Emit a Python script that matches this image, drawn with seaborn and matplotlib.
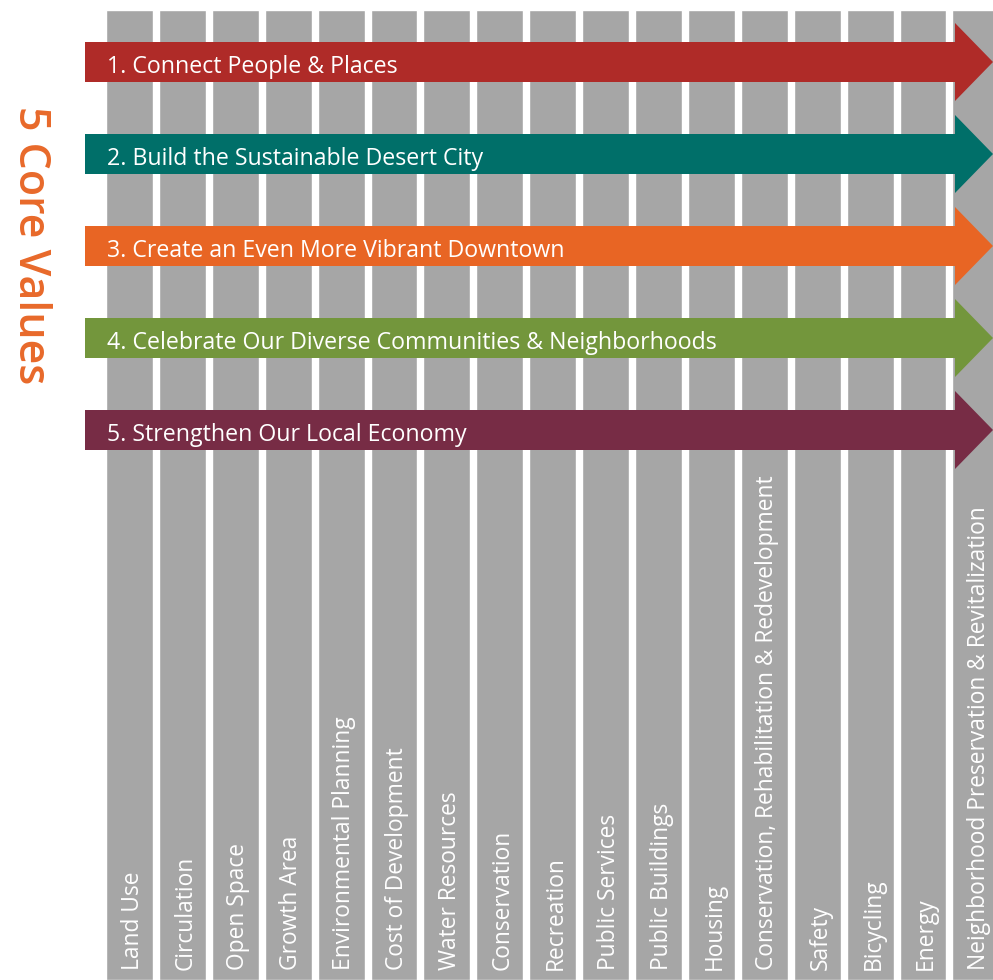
import matplotlib.pyplot as plt
import seaborn as sns
import pandas as pd
from matplotlib.patches import FancyArrow

# Plan elements (columns) and core values (arrows)
elements = ['Land Use', 'Circulation', 'Open Space', 'Growth Area', 'Environmental Planning',
            'Cost of Development', 'Water Resources', 'Conservation', 'Recreation',
            'Public Services', 'Public Buildings', 'Housing',
            'Conservation, Rehabilitation & Redevelopment', 'Safety', 'Bicycling', 'Energy',
            'Neighborhood Preservation & Revitalization']
column_height = [970] * len(elements)

core_values = ['1. Connect People & Places', '2. Build the Sustainable Desert City',
               '3. Create an Even More Vibrant Downtown',
               '4. Celebrate Our Diverse Communities & Neighborhoods',
               '5. Strengthen Our Local Economy']
value_colors = ['#AF2B28', '#006F69', '#E86524', '#73963C', '#772C45']

sns.set_theme(style='white')
plt.rcParams['font.family'] = ['Open Sans', 'DejaVu Sans']

fig = plt.figure(figsize=(9.93, 9.80), dpi=100)
ax = fig.add_axes([0, 0, 1, 1])

df = pd.DataFrame({'element': elements, 'height': column_height})
sns.barplot(data=df, x='element', y='height', color='#A6A6A6', saturation=1,
            width=0.888, ax=ax)

# pixel -> data helpers (column pitch ~52.9 px, first column centre at 129.5 px)
pitch = 52.9
def px_x(px):
    return (px - 129.5) / pitch

ax.set_xlim(px_x(0), px_x(993))
ax.set_ylim(0, 980)
ax.axis('off')

# column labels
for i, name in enumerate(elements):
    ax.text(i + 0.06, 10, name, rotation=90, ha='center', va='bottom',
            color='white', fontsize=16.4)

# arrows
for k, (label, col) in enumerate(zip(core_values, value_colors)):
    yc = 980 - (62 + 92 * k)
    arr = FancyArrow(px_x(85), yc, px_x(993) - px_x(85), 0, width=40,
                     head_width=78, head_length=38 / pitch,
                     length_includes_head=True, color=col, lw=0)
    ax.add_patch(arr)
    ax.text(px_x(107), yc - 2, label, ha='left', va='center_baseline', color='white',
            fontsize=16.7)

# side title
ax.text(px_x(30), 980 - 245, '5 Core Values', rotation=-90, ha='center', va='center',
        color='#E8692A', fontsize=31, fontweight='semibold')

fig.savefig('out.png', dpi=100)
